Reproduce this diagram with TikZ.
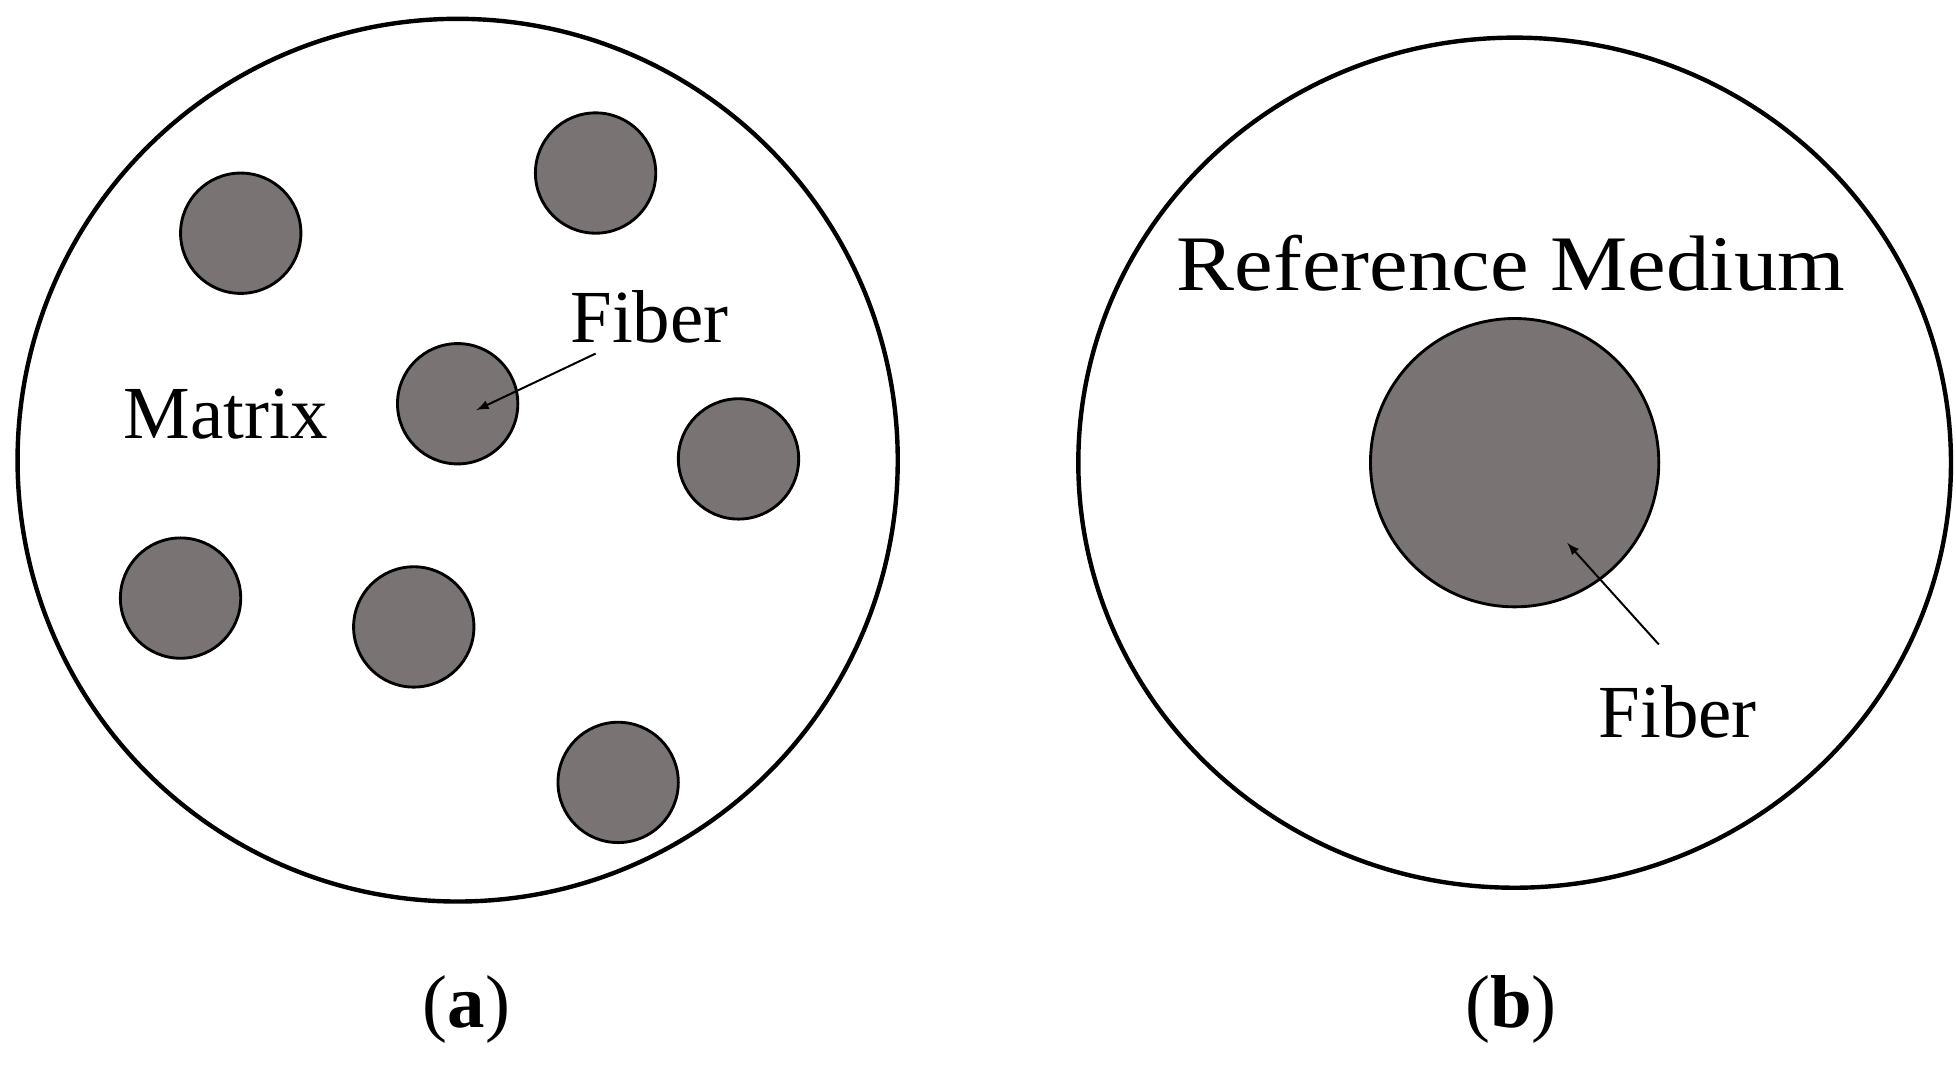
\documentclass[tikz,border=0pt]{standalone}
\usepackage{fontspec}
\setmainfont{Liberation Serif}
\begin{document}
\begin{tikzpicture}[x=0.02cm,y=-0.02cm,
  fib/.style={circle,draw=black,line width=1.3pt,fill=fibgray,minimum size=1.92cm,inner sep=0pt},
  lbl/.style={font=\fontsize{34}{40}\selectfont,inner sep=0pt},
  arr/.style={-latex,line width=0.9pt}]
\definecolor{fibgray}{HTML}{7A7373}
\useasboundingbox (0,0) rectangle (1560,853);
\draw[line width=2pt] (365,367) ellipse [x radius=351, y radius=352];
\node[fib] (f1) at (192,186) {};
\node[fib] (f2) at (475,138) {};
\node[fib] (f3) at (365,322) {};
\node[fib] (f4) at (589,366) {};
\node[fib] (f5) at (144,477) {};
\node[fib] (f6) at (330,500) {};
\node[fib] (f7) at (493,624) {};
\node[lbl] (mat) at (180,330) {Matrix};
\node[lbl] (fa) at (518,253) {Fiber};
\coordinate (ta) at (380,327);
\draw[arr] (475,282) -- (ta);
\draw[line width=2pt] (1208,369) ellipse [x radius=348, y radius=339];
\node[fib,minimum size=4.6cm] (big) at (1208,369) {};
\node[lbl,xscale=1.16,yscale=1.05] (ref) at (1205,210) {Reference Medium};
\node[lbl] (fb) at (1338,568) {Fiber};
\coordinate (tb) at (1250,433);
\draw[arr] (1323,514) -- (tb);
\node[lbl] (a) at (372,805) {(\textbf{a})};
\node[lbl] (b) at (1205,805) {(\textbf{b})};
\end{tikzpicture}
\end{document}
